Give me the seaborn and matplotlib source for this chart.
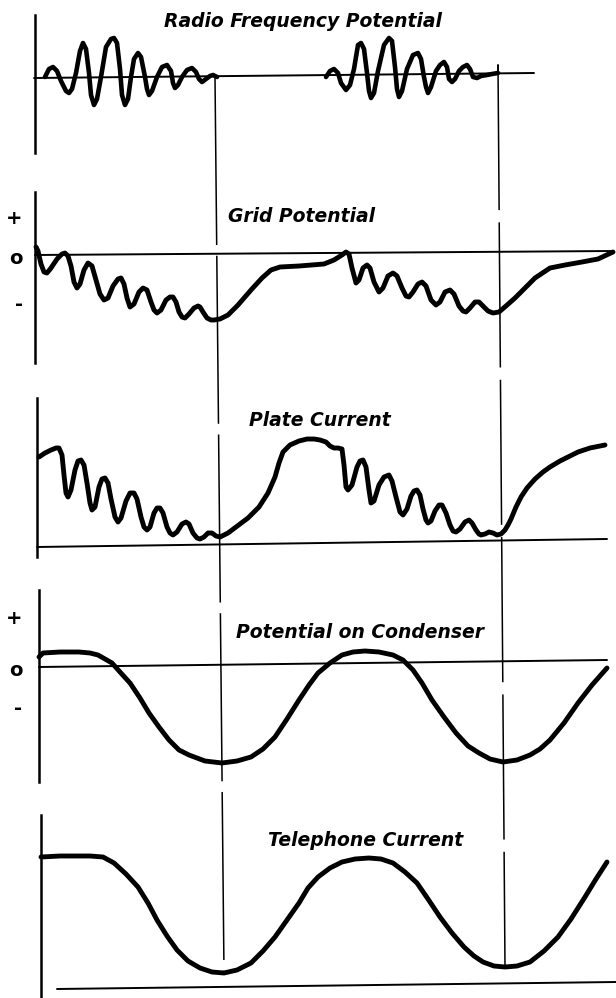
import matplotlib
matplotlib.use("Agg")
import matplotlib.pyplot as plt
import seaborn as sns

# Shared horizontal time axis (sheet units) and traced amplitudes for each trace.
# Amplitudes are measured upward from each panel's reference line.

# Radio frequency potential: two damped wave trains
rf_burst1_t = [45, 49, 53, 57, 61, 66, 69, 72, 76, 80, 83, 86, 89, 91, 94, 97, 101, 106, 111, 114,
               117, 120, 122, 125, 128, 131, 134, 138, 141, 145, 147, 149, 152, 157, 162, 167, 171, 173, 175, 178,
               182, 187, 192, 196, 199, 202, 206, 210, 213, 217]
rf_burst1_v = [0, 8, 10, 6, -4, -14, -16, -12, 4, 26, 34, 28, 4, -18, -28, -22, 0, 30, 38, 39,
               34, 8, -18, -28, -22, 0, 18, 24, 20, 0, -12, -18, -14, 0, 10, 12, 6, -6, -11, -8,
               0, 7, 9, 5, -2, -5, -2, 1, 2, 0]
rf_burst2_t = [326, 330, 334, 338, 341, 346, 350, 354, 358, 361, 364, 367, 369, 371, 374, 378, 384, 389, 392, 395,
               397, 399, 402, 407, 413, 418, 421, 424, 426, 428, 431, 436, 440, 444, 447, 449, 452, 455, 459, 463,
               467, 470, 473, 477, 481, 487, 492, 498]
rf_burst2_v = [0, 6, 8, 4, -6, -13, -8, 8, 32, 34, 28, 4, -14, -21, -16, 6, 32, 39, 36, 10,
               -12, -20, -14, 8, 22, 24, 18, 0, -10, -16, -10, 6, 12, 15, 10, -2, -5, -2, 6, 10,
               12, 8, 0, -1, 1, 2, 3, 4]

# Grid potential
grid_t = [36, 38, 41, 44, 47, 51, 57, 62, 65, 68, 71, 74, 77, 80, 84, 88, 92, 96, 100, 104,
          108, 113, 118, 121, 124, 127, 130, 134, 139, 143, 147, 151, 154, 157, 161, 166, 170, 173, 176, 179,
          182, 185, 189, 194, 198, 200, 203, 207, 211, 214, 220, 228, 238, 251, 262, 271, 280, 299, 324, 334,
          342, 346, 349, 352, 356, 359, 363, 367, 370, 374, 379, 383, 388, 393, 397, 402, 406, 409, 413, 418,
          422, 426, 431, 436, 440, 445, 450, 454, 459, 463, 466, 470, 475, 479, 483, 488, 493, 499, 506, 515,
          523, 535, 550, 565, 582, 598, 613]
grid_v = [7, 3, -10, -18, -19, -14, -5, 0, 1, -2, -12, -28, -34, -30, -16, -9, -12, -26, -40, -46,
          -44, -32, -25, -24, -30, -44, -53, -50, -38, -34, -36, -48, -56, -59, -56, -46, -43, -43, -48, -58,
          -63, -64, -60, -54, -52, -53, -58, -64, -66, -66, -65, -61, -51, -36, -24, -16, -13, -12, -10, -6,
          -1, 2, 0, -14, -29, -26, -14, -11, -14, -28, -38, -34, -22, -19, -22, -34, -42, -43, -38, -30,
          -28, -32, -46, -51, -48, -38, -36, -40, -52, -57, -58, -54, -48, -48, -52, -57, -59, -58, -52, -44,
          -36, -24, -14, -11, -8, -5, 2]

# Plate current
plate_t = [39, 45, 51, 56, 59, 62, 64, 66, 68, 71, 75, 78, 81, 84, 87, 90, 92, 95, 99, 102,
           105, 108, 111, 115, 118, 121, 126, 130, 134, 137, 141, 144, 147, 150, 154, 157, 160, 163, 167, 170,
           173, 177, 182, 186, 189, 193, 197, 200, 204, 208, 212, 216, 220, 228, 236, 248, 259, 268, 275, 279,
           283, 290, 299, 307, 314, 320, 326, 330, 334, 338, 342, 344, 346, 348, 352, 357, 360, 363, 366, 369,
           371, 374, 379, 384, 389, 392, 396, 400, 403, 407, 411, 414, 417, 420, 423, 426, 428, 431, 435, 439,
           442, 446, 450, 453, 456, 460, 465, 469, 472, 476, 479, 481, 485, 489, 493, 497, 501, 505, 508, 511,
           516, 521, 527, 535, 543, 550, 560, 570, 578, 590, 605]
plate_v = [88, 92, 95, 97, 97, 90, 70, 52, 48, 55, 75, 84, 85, 80, 62, 42, 35, 38, 58, 66,
           67, 62, 46, 28, 23, 27, 44, 52, 52, 46, 28, 18, 15, 18, 32, 37, 37, 32, 18, 12,
           10, 13, 21, 23, 21, 12, 7, 6, 8, 12, 12, 9, 8, 12, 18, 27, 38, 52, 68, 82,
           93, 100, 104, 106, 106, 105, 103, 99, 97, 97, 96, 80, 58, 55, 60, 78, 84, 85, 78, 55,
           42, 44, 60, 68, 70, 64, 48, 33, 30, 36, 49, 54, 55, 50, 36, 25, 22, 24, 34, 40,
           40, 32, 20, 14, 13, 16, 23, 25, 22, 15, 11, 10, 11, 13, 12, 10, 11, 15, 20, 26,
           38, 48, 57, 66, 73, 78, 84, 89, 93, 97, 100]

# Potential on condenser
cond_t = [39, 43, 60, 79, 90, 98, 105, 112, 120, 130, 140, 149, 159, 169, 179, 189, 205, 222, 237, 251,
          263, 275, 287, 299, 309, 318, 330, 342, 353, 365, 379, 393, 403, 413, 422, 432, 444, 456, 468, 479,
          490, 503, 517, 530, 540, 550, 564, 578, 592, 607]
cond_v = [8, 12, 13, 13, 12, 10, 6, 2, -7, -18, -33, -48, -62, -75, -85, -90, -96, -98, -96, -92,
          -84, -72, -54, -35, -20, -8, 2, 10, 13, 14, 13, 10, 5, -5, -18, -35, -52, -68, -81, -88,
          -94, -97, -95, -90, -84, -75, -58, -38, -20, -3]

# Telephone current
tel_t = [41, 60, 90, 103, 114, 126, 138, 148, 157, 167, 177, 188, 200, 212, 224, 237, 251, 263, 275, 287,
         299, 308, 318, 330, 342, 355, 369, 381, 393, 405, 417, 428, 440, 452, 464, 474, 483, 494, 505, 517,
         530, 544, 558, 571, 585, 596, 607]
tel_v = [130, 131, 131, 130, 124, 113, 100, 84, 67, 51, 37, 26, 19, 15, 14, 17, 24, 36, 50, 67,
         84, 99, 110, 119, 125, 128, 129, 128, 124, 115, 104, 88, 70, 54, 40, 31, 25, 21, 20, 21,
         25, 36, 50, 68, 90, 108, 125]

titles = ["Radio Frequency Potential", "Grid Potential", "Plate Current",
          "Potential on Condenser", "Telephone Current"]
sign_labels = ["+", "o", "-"]

W, H = 616, 998

sns.set_theme(style="white")
plt.rcParams["font.family"] = ["DejaVu Sans"]

fig = plt.figure(figsize=(W / 100, H / 100), dpi=100)
fig.patch.set_facecolor("white")

# sheet-wide layer for the two dashed time markers and the captions
sheet = fig.add_axes([0, 0, 1, 1])
sheet.set_xlim(0, W)
sheet.set_ylim(H, 0)
sheet.axis("off")
sheet.plot([215, 224], [77, 973], color="black", lw=1.1, dashes=(110, 7))
sheet.plot([498, 505], [65, 967], color="black", lw=1.1, dashes=(95, 8), dash_capstyle="butt")

title_pos = [(303, 21), (302, 216), (320, 421), (360, 632), (366, 841)]
for text, (x, y) in zip(titles, title_pos):
    sheet.text(x, y, text, ha="center", va="center", fontsize=13.5, style="italic",
               fontweight="bold", color="black")


def panel(top, bottom, zero, axis_x, axis_lo, axis_hi):
    ax = fig.add_axes([0, 1 - bottom / H, 1, (bottom - top) / H])
    ax.set_xlim(0, W)
    ax.set_ylim(zero - bottom, zero - top)
    ax.patch.set_alpha(0)
    for side in ("top", "right", "bottom"):
        ax.spines[side].set_visible(False)
    left = ax.spines["left"]
    left.set_position(("data", axis_x))
    left.set_bounds(axis_lo, axis_hi)
    left.set_linewidth(1.8)
    left.set_color("black")
    ax.set_xticks([])
    ax.set_yticks([])
    return ax


def trace(ax, t, v, lw=3.5):
    sns.lineplot(x=t, y=v, ax=ax, color="black", lw=lw, sort=False, estimator=None,
                 solid_capstyle="round", solid_joinstyle="round")


def signs(ax, ticks, pad):
    ax.set_yticks(ticks)
    ax.set_yticklabels(sign_labels, fontsize=14, fontweight="bold")
    ax.tick_params(axis="y", length=0, pad=pad, colors="black")
    ax.set_ylabel("")


# 1: radio frequency potential
ax1 = panel(0, 185, 77, 35, -76, 62)
ax1.plot([34, 534], [-1, 4], color="black", lw=1.4)
trace(ax1, rf_burst1_t, rf_burst1_v, lw=3.3)
trace(ax1, rf_burst2_t, rf_burst2_v, lw=3.3)
ax1.plot([498, 498], [4, 12], color="black", lw=1.4)

# 2: grid potential
ax2 = panel(185, 375, 254, 35, -109, 62)
ax2.plot([35, 613], [-1, 3], color="black", lw=1.4)
trace(ax2, grid_t, grid_v)
signs(ax2, [37, -3, -48], 9)
ax2.set_yticks([-99], minor=True)
ax2.tick_params(axis="y", which="minor", length=5, width=1.5, direction="out", colors="black")

# 3: plate current
ax3 = panel(375, 565, 545, 37, -12, 147)
ax3.plot([37, 607], [-2, 6], color="black", lw=1.4)
trace(ax3, plate_t, plate_v)

# 4: potential on condenser
ax4 = panel(565, 790, 665, 39, -117, 75)
ax4.plot([39, 607], [-2, 5], color="black", lw=1.4)
trace(ax4, cond_t, cond_v)
signs(ax4, [48, -3, -42], 12)

# 5: telephone current
ax5 = panel(790, 998, 987, 41, -11, 172)
ax5.plot([57, 616], [-2, 5], color="black", lw=1.4)
trace(ax5, tel_t, tel_v)

fig.savefig("out.png", dpi=100, facecolor="white")
plt.close(fig)
